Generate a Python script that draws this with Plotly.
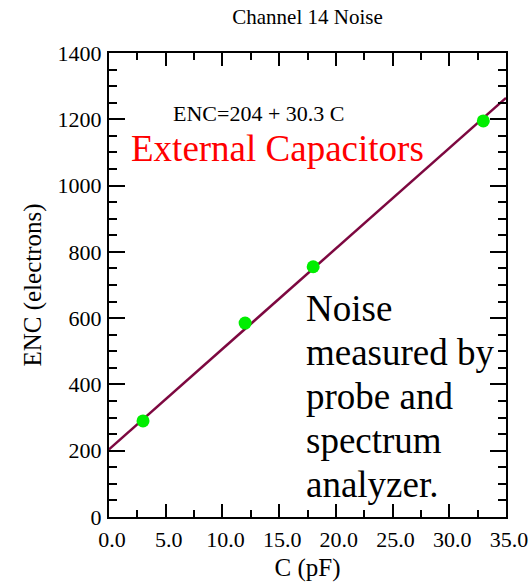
import plotly.graph_objects as go

cap_pf = [3.0, 12.0, 18.0, 33.0]
enc_e = [290, 585, 755, 1195]
fit_intercept = 204
fit_slope = 30.3
fit_x = [0.0, 35.0]
fit_y = [fit_intercept + fit_slope * x for x in fit_x]
note_lines = ["Noise", "measured by", "probe and", "spectrum", "analyzer."]

FONT = "Liberation Serif"
L, R, T, B = 109, 506, 53, 517
PW, PH = R - L, B - T


def px(xp):
    return (xp - L) / PW


def py(yp):
    return (B - yp) / PH


fig = go.Figure()
fig.add_trace(go.Scatter(x=fit_x, y=fit_y, mode="lines",
                         line=dict(color="#7d0840", width=2.5), showlegend=False))
fig.add_trace(go.Scatter(x=cap_pf, y=enc_e, mode="markers",
                         marker=dict(color="#00ee00", size=13), showlegend=False))

axis_common = dict(ticks="inside", tickwidth=2, tickcolor="black",
                   showline=True, linecolor="black", linewidth=2, mirror="ticks",
                   showgrid=False, zeroline=False, automargin=False,
                   tickfont=dict(family=FONT, size=22, color="black"))

fig.update_layout(
    width=529, height=586,
    margin=dict(l=L, r=529 - R, t=T, b=586 - B),
    paper_bgcolor="white", plot_bgcolor="white",
    font=dict(family=FONT, color="black", size=22),
    title=dict(text="Channel 14 Noise", x=0.5, xanchor="center", xref="paper",
               y=1 - 17 / 586, yanchor="middle",
               font=dict(family=FONT, size=21, color="black")),
    xaxis=dict(range=[0, 35], dtick=5, tickformat=".1f", ticklen=13,
               ticklabelshift=3, ticklabelstandoff=2,
               minor=dict(dtick=2.5, ticks="inside", ticklen=7, tickwidth=2, tickcolor="black"),
               title=dict(text="C (pF)", font=dict(family=FONT, size=25, color="black"), standoff=7),
               **axis_common),
    yaxis=dict(range=[0, 1400], dtick=200, ticklen=16, ticklabelstandoff=1,
               minor=dict(dtick=50, ticks="inside", ticklen=8, tickwidth=2, tickcolor="black"),
               title=dict(text="ENC (electrons)", font=dict(family=FONT, size=25, color="black"), standoff=9),
               **axis_common),
)

fig.add_annotation(text="ENC=204 + 30.3 C", xref="paper", yref="paper",
                   x=px(258.5), y=py(113), showarrow=False,
                   font=dict(family=FONT, size=22, color="black"),
                   xanchor="center", yanchor="middle")
fig.add_annotation(text="External Capacitors", xref="paper", yref="paper",
                   x=px(277), y=py(148), showarrow=False,
                   font=dict(family=FONT, size=37, color="red"),
                   xanchor="center", yanchor="middle")
for i, line in enumerate(note_lines):
    baseline = 320 + 44 * i
    fig.add_annotation(text=line, xref="paper", yref="paper", align="left",
                       x=px(304), y=py(baseline - 12), showarrow=False,
                       font=dict(family=FONT, size=37, color="black"),
                       xanchor="left", yanchor="middle")

fig.write_html("out.html")
